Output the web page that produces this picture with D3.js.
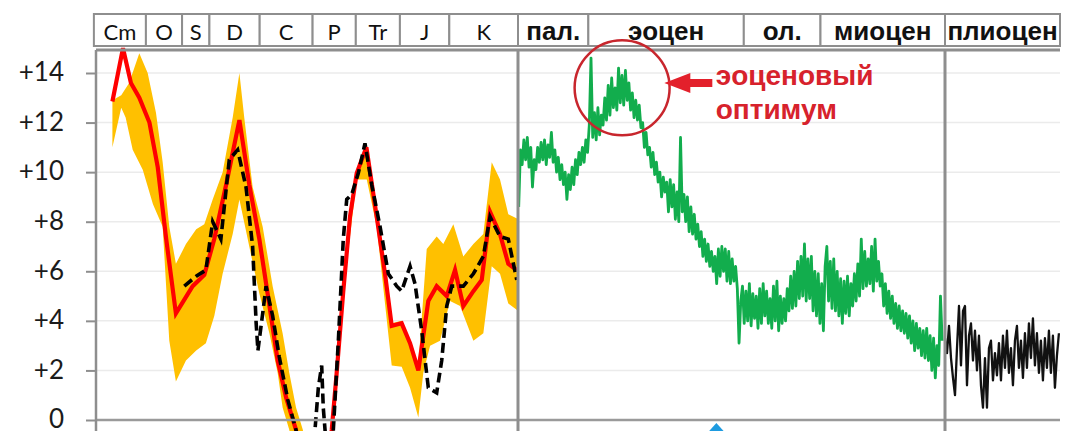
<!DOCTYPE html>
<html>
<head>
<meta charset="utf-8">
<script src="https://cdn.jsdelivr.net/npm/d3@7"></script>
<style>
  html, body { margin: 0; padding: 0; background: #fff; }
  svg { display: block; }
</style>
</head>
<body>
<div id="chart"></div>
<script>
// DATA

// Paleozoic-Mesozoic header: period names and their boundaries (Ma, as drawn)
const periods = ["Cm", "O", "S", "D", "C", "P", "Tr", "J", "K"];
const periodEdges = [540, 481, 440, 409, 352, 292, 243, 193, 137, 58.5];

// Cenozoic header
const epochs = ["пал.", "эоцен", "ол.", "миоцен"];
const epochEdges = [66, 56, 33.9, 23, 5.3];
const lastEpoch = "плиоцен";
const lastEpochEdges = [5.3, 0];

const yTicks = [0, 2, 4, 6, 8, 10, 12, 14];

// mean temperature anomaly (red), [age Ma, °C]
const meanLine = [
  [519, 12.85], [507, 15.0], [498, 13.6], [488.5, 13.0], [477, 12.0], [467.6, 10.2],
  [458, 7.3], [447, 4.3], [428, 5.4], [414.8, 5.85], [403.5, 7.3], [390, 9.5],
  [375, 12.1], [363.8, 9.5], [352.4, 7.3], [343, 5.1], [331.6, 2.4], [322, 0.9],
  [310.8, -0.4], [300, -3], [280, -3], [270.3, -0.4], [264.7, 1.9], [257.2, 5.2],
  [249.6, 8.2], [242, 9.95], [231, 11.0], [219.3, 8.2], [209.9, 5.9], [202.3, 3.8],
  [191, 3.9], [181.5, 3.1], [172.1, 2.0], [160.8, 4.8], [151.3, 5.4], [139.9, 5.0],
  [130.5, 6.05], [121.1, 4.6], [109.7, 5.2], [100.2, 5.65], [90.8, 8.4], [79.5, 7.5],
  [70.1, 6.3], [60.5, 6.05]
];

// uncertainty band (orange)
const bandUpper = [
  [519, 12.9], [509, 13.1], [500, 13.6], [488.5, 14.8], [479, 14.0], [469.6, 12.4],
  [462, 10.4], [454.5, 7.8], [447, 6.3], [435.6, 7.1], [424, 7.7], [414.8, 7.9],
  [405.3, 8.9], [394, 10.0], [382.6, 12.2], [375, 14.0], [369.5, 12.2], [360, 9.4],
  [348.6, 7.8], [337.3, 5.4], [326, 3.5], [318.4, 1.9], [310.8, 0.5], [303, -0.4],
  [295, -3], [275, -3], [268.5, -0.4], [257.2, 5.4], [242, 10.1], [230.6, 11.0],
  [219.3, 8.3], [211.8, 6.6], [202.3, 3.9], [191, 4.0], [181.5, 3.2], [172.1, 2.2],
  [162.6, 6.9], [151.3, 7.4], [143.8, 7.1], [132.4, 7.9], [121.1, 6.6], [109.7, 7.1],
  [98.4, 7.5], [88.9, 10.4], [79.5, 9.7], [70.1, 8.3], [58.7, 8.1]
];
const bandLower = [
  [519, 11.0], [509, 12.6], [504, 12.2], [496, 10.9], [484.6, 10.1], [473, 8.7],
  [462, 7.8], [454.5, 3.2], [447, 1.55], [435.6, 2.4], [424, 2.8], [413, 3.1],
  [403.5, 4.2], [394, 5.9], [382.6, 7.5], [375, 8.9], [363.8, 7.0], [352.4, 5.1],
  [341, 3.5], [331.6, 1.9], [326, 0.5], [318.4, -0.4], [310, -3], [275, -3],
  [268.5, -0.4], [257.2, 5.1], [242, 9.7], [230.6, 9.7], [219.3, 7.8], [202.3, 2.2],
  [191, 2.15], [181.5, 1.3], [172.1, 0.1], [166.5, 1.9], [158.8, 3.0], [147.5, 3.2],
  [136.2, 4.8], [124.8, 4.6], [109.7, 3.2], [98.4, 3.5], [88.9, 6.2], [79.5, 5.9],
  [70.1, 4.7], [58.7, 4.4]
];

// second reconstruction (black dashed)
const dashedLine = [
  [437.5, 5.4], [424, 5.8], [413, 6.05], [405.3, 8.0], [396, 7.3], [386.5, 10.5],
  [377, 10.9], [367.5, 9.4], [360, 7.0], [356, 3.9], [354, 2.8], [348.6, 4.3],
  [344.8, 5.4], [337.3, 4.2], [329.8, 2.55], [320, 0.8], [310.8, -0.4], [300, -3],
  [289.3, -0.4], [285.5, 1.3], [281.7, 2.2], [279.9, 0.5], [277.9, -0.4], [273, -3],
  [268.5, -0.4], [262.8, 3.2], [257.2, 7.3], [253.3, 8.9], [247.6, 9.1], [240.2, 9.95],
  [232.6, 11.16], [225, 9.5], [215.5, 7.8], [206.1, 5.9], [196.6, 5.4], [191, 5.2],
  [181.5, 6.2], [175.9, 5.5], [168.3, 3.6], [160.8, 1.3], [151.3, 1.1], [145.6, 2.4],
  [139.9, 4.6], [134.2, 5.4], [121.1, 5.4], [109.7, 5.9], [98.4, 6.6], [90.8, 8.2],
  [79.5, 7.4], [70.1, 7.3], [60.5, 5.65]
];

// Cenozoic record (green), evenly spaced from 65.9 to 5.7 Ma
const greenSpan = [65.9, 5.7];
const greenT = [
  8.6, 10.9, 10.3, 11.3, 10.5, 11.4, 10.2, 11.0, 9.4, 10.5,
  10.1, 11.0, 10.4, 11.2, 10.5, 11.3, 10.3, 11.1, 10.6, 11.6,
  10.4, 10.9, 10.0, 10.6, 9.7, 10.3, 9.5, 10.0, 8.9, 9.9,
  9.3, 10.2, 9.5, 10.5, 9.9, 10.8, 10.3, 11.0, 10.4, 11.3,
  10.8, 11.9, 14.6, 11.4, 12.4, 11.3, 12.6, 11.5, 12.3, 11.9,
  13.0, 12.1, 13.5, 12.3, 13.8, 12.6, 13.4, 12.5, 14.2, 12.8,
  13.9, 12.7, 14.1, 12.9, 13.6, 12.5, 13.2, 12.2, 12.9, 12.1,
  12.7, 11.8, 12.0, 11.0, 11.6, 10.7, 11.0, 10.2, 10.8, 9.9,
  10.4, 9.6, 10.0, 9.0, 9.8, 9.2, 9.6, 8.4, 9.7, 8.6,
  9.5, 8.1, 9.2, 8.0, 11.4, 8.4, 9.1, 8.0, 9.0, 7.6,
  8.6, 7.5, 8.3, 7.3, 7.9, 7.0, 7.6, 6.6, 7.3, 6.4,
  7.1, 6.2, 6.8, 6.0, 6.6, 5.5, 6.9, 5.8, 7.0, 6.0,
  6.9, 5.6, 6.8, 5.5, 6.5, 5.6, 6.2, 5.3, 3.1, 4.8,
  5.4, 3.9, 5.2, 4.0, 5.5, 3.8, 5.1, 4.1, 5.0, 3.7,
  5.3, 3.9, 5.5, 4.2, 5.2, 3.9, 4.9, 3.7, 5.4, 4.0,
  5.6, 3.6, 5.0, 3.9, 4.9, 4.0, 5.3, 4.4, 5.8, 4.5,
  6.0, 4.6, 6.4, 4.9, 6.6, 5.0, 7.1, 4.8, 6.5, 4.9,
  6.6, 4.4, 6.0, 4.2, 5.9, 3.9, 5.5, 3.6, 6.2, 7.0,
  4.8, 6.4, 4.5, 6.5, 4.4, 6.0, 4.2, 5.7, 3.9, 5.6,
  4.3, 5.8, 4.2, 5.5, 4.6, 5.9, 4.8, 6.3, 5.0, 7.3,
  5.3, 6.8, 5.4, 6.5, 5.5, 7.0, 5.2, 7.3, 5.6, 6.4,
  5.4, 5.9, 4.6, 5.5, 4.3, 5.2, 4.1, 5.0, 3.9, 4.7,
  3.7, 4.6, 3.6, 4.4, 3.5, 4.3, 3.3, 4.2, 3.1, 4.0,
  2.8, 3.9, 2.9, 3.7, 2.6, 3.6, 2.5, 3.7, 2.4, 3.4,
  2.0, 3.3, 1.7, 3.0, 2.2, 5.0, 3.2
];

// Pliocene-Pleistocene record (black), evenly spaced from 5.3 to 0.05 Ma
const blackSpan = [5.3, 0.05];
const blackT = [
  3.3, 2.7, 3.8, 2.5, 1.7, 1.0, 2.9, 4.6, 2.2, 4.4,
  4.6, 1.4, 3.4, 3.9, 2.4, 3.6, 2.0, 3.4, 1.4, 0.5,
  2.5, 0.5, 2.9, 3.2, 1.6, 2.7, 1.8, 3.1, 1.6, 3.4,
  2.1, 3.6, 1.9, 2.9, 1.4, 3.2, 3.8, 2.1, 3.2, 1.7,
  3.5, 2.1, 3.9, 2.5, 4.1, 2.2, 3.5, 1.9, 3.2, 1.6,
  3.3, 2.1, 3.6, 1.9, 3.4, 1.3, 2.6, 3.5
];

// LAYOUT
const width = 1074, height = 431;
const frame = { left: 96, mid: 518, right: 945, end: 1060, top: 50, bottom: 420 };
const header = { top: 14, bottom: 46 };
const gridColor = "#ebebeb";
const frameColor = "#8e8e8e";

const svg = d3.select("#chart").append("svg")
  .attr("width", width)
  .attr("height", height);

// scales: three time panels share one temperature axis
const xPal = d3.scaleLinear().domain([537.6, 59.1]).range([frame.left, frame.mid]);
const xCen = d3.scaleLinear().domain([66, 5.3]).range([frame.mid, frame.right]);
const xRec = d3.scaleLinear().domain([5.3, 0]).range([frame.right, frame.end]);
const y = d3.scaleLinear().domain([0, 14]).range([frame.bottom, 73]);

// clip regions per panel
const defs = svg.append("defs");
function addClip(id, x0, x1) {
  defs.append("clipPath").attr("id", id)
    .append("rect")
      .attr("x", x0).attr("y", 44)
      .attr("width", x1 - x0).attr("height", height - 44);
}
addClip("clip-pal", frame.left, frame.mid);
addClip("clip-cen", frame.mid, frame.right);
addClip("clip-rec", frame.right, frame.end + 4);

// gridlines
svg.append("g").attr("class", "grid")
  .selectAll("line").data(yTicks.filter(d => d > 0)).enter().append("line")
    .attr("x1", frame.left).attr("x2", frame.end)
    .attr("y1", d => y(d)).attr("y2", d => y(d))
    .attr("stroke", gridColor).attr("stroke-width", 1.5);

// y axis
const yAxis = d3.axisLeft(y)
  .tickValues(yTicks)
  .tickSize(10)
  .tickPadding(22)
  .tickFormat(d => d === 0 ? "0" : "+" + d);
const yAxisG = svg.append("g")
  .attr("class", "y-axis")
  .attr("transform", `translate(${frame.left},0)`)
  .call(yAxis);
yAxisG.select(".domain").remove();
yAxisG.selectAll(".tick line").attr("stroke", frameColor).attr("stroke-width", 2);
yAxisG.selectAll(".tick text")
  .attr("fill", "#1b1b1b")
  .attr("dy", "0.3em")
  .style("font-family", "Lato, 'Open Sans', sans-serif")
  .style("font-size", "26px");

// left panel: band, mean, dashed
const gPal = svg.append("g").attr("clip-path", "url(#clip-pal)");
const palLine = d3.line().x(d => xPal(d[0])).y(d => y(d[1]));

gPal.append("path")
  .attr("d", palLine(bandUpper.concat(bandLower.slice().reverse())) + "Z")
  .attr("fill", "#ffc000")
  .attr("stroke", "none");

gPal.append("path")
  .attr("d", palLine(meanLine))
  .attr("fill", "none")
  .attr("stroke", "#ff0000")
  .attr("stroke-width", 4.2)
  .attr("stroke-linejoin", "miter");

gPal.append("path")
  .attr("d", palLine(dashedLine))
  .attr("fill", "none")
  .attr("stroke", "#000")
  .attr("stroke-width", 3.6)
  .attr("stroke-dasharray", "10,5");

// middle panel: green record
const greenStep = (greenSpan[0] - greenSpan[1]) / (greenT.length - 1);
const greenLine = d3.line()
  .x((d, i) => xCen(greenSpan[0] - i * greenStep))
  .y(d => y(d));
svg.append("g").attr("clip-path", "url(#clip-cen)")
  .append("path")
    .attr("d", greenLine(greenT))
    .attr("fill", "none")
    .attr("stroke", "#12ad4d")
    .attr("stroke-width", 2.8)
    .attr("stroke-linejoin", "round");

// right panel: black record
const blackStep = (blackSpan[0] - blackSpan[1]) / (blackT.length - 1);
const blackLine = d3.line()
  .x((d, i) => xRec(blackSpan[0] - i * blackStep))
  .y(d => y(d));
svg.append("g").attr("clip-path", "url(#clip-rec)")
  .append("path")
    .attr("d", blackLine(blackT))
    .attr("fill", "none")
    .attr("stroke", "#111")
    .attr("stroke-width", 2.3)
    .attr("stroke-linejoin", "round");

// frame
const frameG = svg.append("g").attr("class", "frame");
frameG.append("line")
  .attr("x1", frame.left).attr("x2", frame.end)
  .attr("y1", frame.top).attr("y2", frame.top)
  .attr("stroke", frameColor).attr("stroke-width", 3);
frameG.append("line")
  .attr("x1", frame.left).attr("x2", frame.end)
  .attr("y1", frame.bottom).attr("y2", frame.bottom)
  .attr("stroke", "#9a9a9a").attr("stroke-width", 2.5);
[frame.left, frame.mid, frame.right].forEach(x => {
  frameG.append("line")
    .attr("x1", x).attr("x2", x)
    .attr("y1", frame.top).attr("y2", height)
    .attr("stroke", frameColor).attr("stroke-width", x === frame.left ? 2.5 : 3);
});

// header boxes
function drawHeader(names, edges, xs, font) {
  const boxes = names.map((n, i) => ({ name: n, x0: xs(edges[i]), x1: xs(edges[i + 1]) }));
  const g = svg.append("g").attr("class", "header");
  g.selectAll("rect").data(boxes).enter().append("rect")
    .attr("x", d => d.x0).attr("y", header.top)
    .attr("width", d => d.x1 - d.x0).attr("height", header.bottom - header.top)
    .attr("fill", "#fff")
    .attr("stroke", frameColor).attr("stroke-width", 2);
  g.selectAll("text").data(boxes).enter().append("text")
    .attr("x", d => (d.x0 + d.x1) / 2)
    .attr("y", 40)
    .attr("text-anchor", "middle")
    .attr("fill", "#111")
    .style("font-family", font.family)
    .style("font-size", font.size)
    .style("font-weight", font.weight)
    .text(d => d.name);
}
drawHeader(periods, periodEdges, xPal,
  { family: "Lato, 'Open Sans', sans-serif", size: "22px", weight: 400 });
drawHeader(epochs, epochEdges, xCen,
  { family: "'Liberation Sans', Arial, sans-serif", size: "26px", weight: 700 });
drawHeader([lastEpoch], lastEpochEdges, xRec,
  { family: "'Liberation Sans', Arial, sans-serif", size: "26px", weight: 700 });

// annotation: eocene optimum
const ann = svg.append("g").attr("class", "annotation");
ann.append("circle")
  .attr("cx", xCen(51.2)).attr("cy", y(13.4))
  .attr("r", 47.5)
  .attr("fill", "none")
  .attr("stroke", "#c8262d")
  .attr("stroke-width", 2.5);

const ax = xCen(45.2), ay = y(13.6);
ann.append("path")
  .attr("d", `M${ax},${ay} L${ax + 26},${ay - 10} L${ax + 26},${ay - 4} L${ax + 48},${ay - 4}
              L${ax + 48},${ay + 4} L${ax + 26},${ay + 4} L${ax + 26},${ay + 10} Z`)
  .attr("fill", "#e3202b");

ann.selectAll("text").data(["эоценовый", "оптимум"]).enter().append("text")
  .attr("x", xCen(37.9))
  .attr("y", (d, i) => 85 + i * 34)
  .attr("fill", "#d7222c")
  .style("font-family", "'Liberation Sans', Arial, sans-serif")
  .style("font-size", "28px")
  .style("font-weight", 700)
  .text(d => d);

// small blue marker below the axis
const bx = xCen(37.8);
svg.append("path")
  .attr("d", `M${bx},${frame.bottom + 3} L${bx - 9},${height + 2} L${bx + 9},${height + 2} Z`)
  .attr("fill", "#1e9be0");
</script>
</body>
</html>
